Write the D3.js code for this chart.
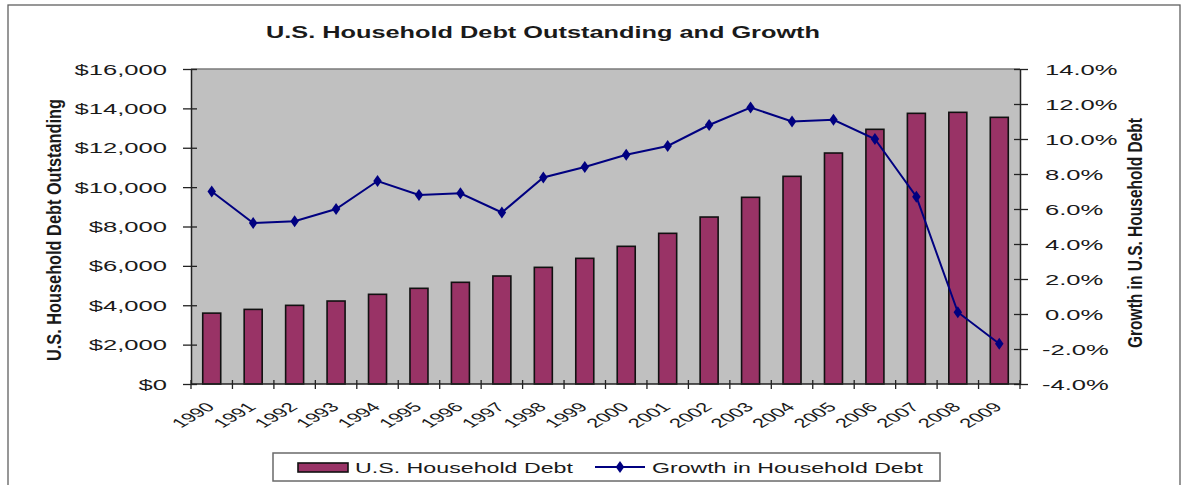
<!DOCTYPE html>
<html><head><meta charset="utf-8">
<script src="https://cdn.jsdelivr.net/npm/d3@7"></script>
<style>body{margin:0;background:#fff}svg{display:block}text{font-family:"Liberation Sans",Arial,sans-serif;fill:#1a1a1a}</style>
</head><body><svg id="c" width="1187" height="485"></svg>
<script>
const years = ["1990","1991","1992","1993","1994","1995","1996","1997","1998","1999","2000","2001","2002","2003","2004","2005","2006","2007","2008","2009"];
const householdDebt = [3600,3790,3995,4215,4555,4860,5165,5485,5925,6383,6993,7653,8481,9482,10548,11732,12936,13748,13799,13545];
const debtGrowth = [7.0,5.2,5.3,6.0,7.6,6.8,6.9,5.8,7.8,8.4,9.1,9.6,10.8,11.8,11.0,11.1,10.0,6.7,0.1,-1.7];
const leftTicks = [0,2000,4000,6000,8000,10000,12000,14000,16000];
const rightTicks = [-4,-2,0,2,4,6,8,10,12,14];
const title = "U.S. Household Debt Outstanding and Growth";
const leftTitle = "U.S. Household Debt Outstanding";
const rightTitle = "Growth in U.S. Household Debt";
const legendLabels = ["U.S. Household Debt","Growth in Household Debt"];

const svg = d3.select("#c");
const L = 191, R = 1020, T = 69, B = 384;
const SX = 1.65;
const stretch = (sel, f) => sel.each(function(){ const w = this.getComputedTextLength(); d3.select(this).attr("textLength", w*f).attr("lengthAdjust","spacingAndGlyphs"); });

// frame
svg.append("rect").attr("x",8).attr("y",5).attr("width",1172).attr("height",490).attr("fill","none").attr("stroke","#606060").attr("stroke-width",1.3);

const xb = d3.scaleBand().domain(years).range([L,R]);
const yL = d3.scaleLinear().domain([0,16000]).range([B,T]);
const yR = d3.scaleLinear().domain([-4,14]).range([B,T]);

svg.append("rect").attr("x",L).attr("y",T).attr("width",R-L).attr("height",B-T).attr("fill","#c0c0c0");
svg.append("line").attr("x1",L).attr("x2",R).attr("y1",T).attr("y2",T).attr("stroke","#7a7a7a").attr("stroke-width",1.5);

// bars
svg.append("g").selectAll("rect").data(householdDebt).join("rect")
  .attr("x",(d,i)=>xb(years[i])+xb.bandwidth()/2-9).attr("width",18)
  .attr("y",d=>yL(d)).attr("height",d=>B-yL(d))
  .attr("fill","#993366").attr("stroke","#111").attr("stroke-width",1.6);

// left axis
const gl = svg.append("g").attr("transform",`translate(${L},0)`)
  .call(d3.axisLeft(yL).tickValues(leftTicks).tickSize(0).tickFormat(d3.format("$,")));
gl.select(".domain").attr("stroke","#222").attr("stroke-width",1.5);
gl.selectAll(".tick text").remove();
gl.selectAll(".tick").append("line").attr("x1",-8).attr("x2",6).attr("stroke","#222").attr("stroke-width",1.3);
const lt = svg.append("g").selectAll("text").data(leftTicks).join("text")
  .attr("x",167).attr("y",d=>yL(d)).attr("dy","0.36em").attr("text-anchor","end")
  .style("font-size","15.5px").text(d=>d3.format("$,")(d));
stretch(lt, SX);

// right axis
const gr = svg.append("g").attr("transform",`translate(${R},0)`)
  .call(d3.axisRight(yR).tickValues(rightTicks).tickSize(0).tickFormat(()=>""));
gr.select(".domain").attr("stroke","#222").attr("stroke-width",1.5);
gr.selectAll(".tick").append("line").attr("x1",-6).attr("x2",8).attr("stroke","#222").attr("stroke-width",1.3);
const fmtR = d => (d<0?"-":"") + Math.abs(d).toFixed(1) + "%";
const rt = svg.append("g").selectAll("text").data(rightTicks).join("text")
  .attr("x",d=>d<0?1042:1045).attr("y",d=>yR(d)).attr("dy","0.36em")
  .style("font-size","15.5px").text(fmtR);
stretch(rt, SX);

// bottom axis
svg.append("line").attr("x1",L).attr("x2",R).attr("y1",B).attr("y2",B).attr("stroke","#222").attr("stroke-width",1.5);
svg.append("g").selectAll("line").data(d3.range(years.length+1)).join("line")
  .attr("x1",i=>L+i*xb.step()).attr("x2",i=>L+i*xb.step()).attr("y1",B-4).attr("y2",B+5)
  .attr("stroke","#222").attr("stroke-width",1.3);
svg.append("g").selectAll("text").data(years).join("text")
  .attr("transform",d=>`translate(${xb(d)+xb.bandwidth()/2+4},408) scale(1.7,1) rotate(-45)`)
  .attr("text-anchor","end").style("font-size","13px").text(d=>d);

// line
const cx = i => xb(years[i])+xb.bandwidth()/2;
const line = d3.line().x((d,i)=>cx(i)).y(d=>yR(d));
svg.append("path").datum(debtGrowth).attr("d",line).attr("fill","none").attr("stroke","#000080").attr("stroke-width",2);
svg.append("g").selectAll("path").data(debtGrowth).join("path")
  .attr("transform",(d,i)=>`translate(${cx(i)},${yR(d)}) scale(1.25,1)`)
  .attr("d",d3.symbol(d3.symbolDiamond,40)).attr("fill","#000080");

// titles
const tt = svg.append("text").attr("x",543).attr("y",38).attr("text-anchor","middle")
  .style("font-size","16.5px").style("font-weight","bold").text(title);
tt.attr("textLength",554).attr("lengthAdjust","spacingAndGlyphs");
svg.append("text").attr("transform","translate(61,230) rotate(-90)").attr("text-anchor","middle")
  .style("font-size","21px").style("font-weight","bold").style("font-family","'Liberation Sans Narrow','Liberation Sans',sans-serif")
  .attr("textLength",262).attr("lengthAdjust","spacingAndGlyphs").text(leftTitle);
svg.append("text").attr("transform","translate(1142,233) rotate(-90)").attr("text-anchor","middle")
  .style("font-size","21px").style("font-weight","bold").style("font-family","'Liberation Sans Narrow','Liberation Sans',sans-serif")
  .attr("textLength",230).attr("lengthAdjust","spacingAndGlyphs").text(rightTitle);

// legend
const lg = svg.append("g");
lg.append("rect").attr("x",273).attr("y",453).attr("width",667).attr("height",28).attr("fill","#fff").attr("stroke","#6a6a6a").attr("stroke-width",1.5);
lg.append("rect").attr("x",298).attr("y",463).attr("width",50).attr("height",9).attr("fill","#993366").attr("stroke","#111").attr("stroke-width",1.6);
lg.append("text").attr("x",355).attr("y",473).style("font-size","14px").attr("textLength",218).attr("lengthAdjust","spacingAndGlyphs").text(legendLabels[0]);
lg.append("line").attr("x1",595).attr("x2",645).attr("y1",467).attr("y2",467).attr("stroke","#000080").attr("stroke-width",2);
lg.append("path").attr("transform","translate(620,467) scale(1.25,1)").attr("d",d3.symbol(d3.symbolDiamond,40)).attr("fill","#000080");
lg.append("text").attr("x",652).attr("y",473).style("font-size","14px").attr("textLength",271).attr("lengthAdjust","spacingAndGlyphs").text(legendLabels[1]);
</script></body></html>
